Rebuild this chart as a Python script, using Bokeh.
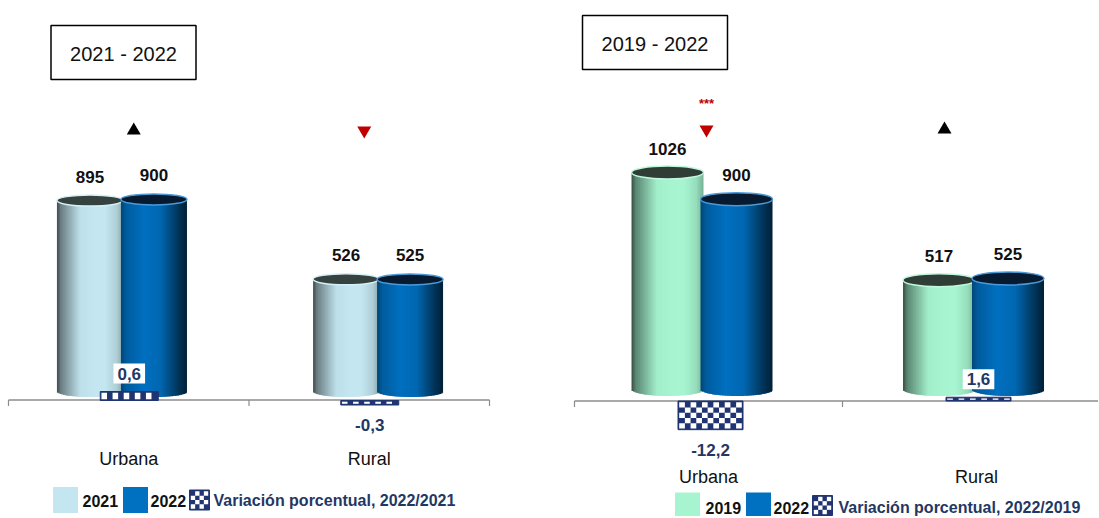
import numpy as np
from bokeh.plotting import figure
from bokeh.models import Range1d
from bokeh.layouts import row
from bokeh.embed import file_html
from bokeh.resources import INLINE
from bokeh.core.properties import value

# ---------------- data ----------------
categories = ["Urbana", "Rural"]

left_years = ["2021", "2022"]
left_first = [895, 526]      # 2021
left_second = [900, 525]     # 2022
left_var = [0.6, -0.3]       # variación porcentual 2022/2021
left_sig = ["", ""]
left_title = "2021 - 2022"
left_var_name = "Variación porcentual, 2022/2021"

right_years = ["2019", "2022"]
right_first = [1026, 517]    # 2019
right_second = [900, 525]    # 2022
right_var = [-12.2, 1.6]     # variación porcentual 2022/2019
right_sig = ["***", ""]
right_title = "2019 - 2022"
right_var_name = "Variación porcentual, 2022/2019"

# ---------------- styles ----------------
TOP = 0
H = 516
NAVY = "#1f3470"
LABEL_NAVY = "#1f3864"
RED = "#c00000"
NARROW = "'Liberation Sans Narrow', 'Arial Narrow', 'Liberation Sans', sans-serif"
SANS = "'Liberation Sans', Arial, sans-serif"

LIGHT_PROF = ([0, 0.06, 0.35, 0.7, 0.9, 1.0], [0.32, 0.55, 0.97, 1.02, 0.9, 0.72])
BLUE_PROF = ([0, 0.08, 0.35, 0.6, 0.85, 1.0], [0.62, 0.82, 1.0, 0.92, 0.5, 0.28])

STYLE_LIGHTBLUE = dict(base="#c3e6f0", prof=LIGHT_PROF, top="#36423f", rim="#d5f0f7")
STYLE_BLUE = dict(base="#0070c0", prof=BLUE_PROF, top="#071a30", rim="#4a9ad8")
STYLE_MINT = dict(base="#a6f5d0", prof=LIGHT_PROF, top="#2f3d36", rim="#c0f8de")

LEFT_CFG = dict(width=548, ox=0, ax0=8, upx=240.5, y0=391, scale=0.2134, eh=5.5,
                vbase=400, vscale=15, axis_py=399.5, cyl_w=66, overlap=2,
                persp=0.065, shift=1, bar_w=58, bar_dx=0.5, arrow_dx=[5, -5],
                arrow_py=130, cat_py=458, title_c=(123, 52),
                leg=dict(y=499.5, ty=500, sq=[65, 135], tx=[82, 150], icon=199, vx=213))
RIGHT_CFG = dict(width=550, ox=548, ax0=574, upx=268, y0=389, scale=0.2115, eh=6.5,
                 vbase=400.5, vscale=2.35, axis_py=400.5, cyl_w=72, overlap=3,
                 persp=0.013, shift=-4.75, bar_w=65, bar_dx=2, arrow_dx=[-2, -32],
                 arrow_py=129, cat_py=476, title_c=(654.5, 42),
                 leg=dict(y=505, ty=507, sq=[687, 758], tx=[705, 773], icon=822, vx=838))


def shade(hex_color, f):
    rgb = [int(hex_color[k:k + 2], 16) for k in (1, 3, 5)]
    if f <= 1:
        c = [ch * f for ch in rgb]
    else:
        c = [ch + (255 - ch) * (f - 1) for ch in rgb]
    c = [max(0, min(255, int(round(ch)))) for ch in c]
    return "#%02x%02x%02x" % tuple(c)


def cylinder(p, xc, w, v, eh, st):
    n = 44
    edges = np.linspace(xc - w / 2, xc + w / 2, n + 1)
    dw = edges[1] - edges[0]
    t = (np.arange(n) + 0.5) / n
    f = np.interp(t, st["prof"][0], st["prof"][1])
    cols = [shade(st["base"], fi) for fi in f]
    bottoms = -eh * np.sqrt(np.clip(1 - (2 * t - 1) ** 2, 0, 1))
    rights = edges[1:].copy()
    rights[:-1] += 0.7 * dw
    p.quad(left=edges[:-1], right=rights, bottom=bottoms, top=[v] * n,
           fill_color=cols, line_color=None)
    p.ellipse(x=[xc], y=[v], width=[w], height=[2 * eh], fill_color=st["top"],
              line_color=st["rim"], line_width=1.5)


def checker(p, xl, xr, yb, yt, xpx, ypx, cell=5.5, inset=1.2, yr="default"):
    lo, hi = min(yb, yt), max(yb, yt)
    p.quad(left=[xl], right=[xr], bottom=[lo], top=[hi], fill_color=NAVY,
           line_color=NAVY, line_width=1, y_range_name=yr)
    ix, iy = inset / xpx, inset / ypx
    il, ir, ib, it = xl + ix, xr - ix, lo + iy, hi - iy
    if it <= ib:
        ib, it = lo + (hi - lo) * 0.3, hi - (hi - lo) * 0.3
    inner_w = (ir - il) * xpx
    inner_h = (it - ib) * ypx
    nc = max(1, int(round(inner_w / cell)))
    nr = max(1, int(round(inner_h / cell)))
    cw, chh = (ir - il) / nc, (it - ib) / nr
    L, R, B, T = [], [], [], []
    for i in range(nc):
        for j in range(nr):
            if (i + j) % 2 == 0:
                L.append(il + i * cw); R.append(il + (i + 1) * cw)
                B.append(ib + j * chh); T.append(ib + (j + 1) * chh)
    p.quad(left=L, right=R, bottom=B, top=T, fill_color="white", line_color=None,
           y_range_name=yr)


def build(cfg, first, second, var, sig, years, styles, title, var_name):
    W, ox, ax0, upx = cfg["width"], cfg["ox"], cfg["ax0"], cfg["upx"]
    y0, sc, vb, vsc = cfg["y0"], cfg["scale"], cfg["vbase"], cfg["vscale"]
    X = lambda px: (px - ax0) / upx
    Y = lambda py: (y0 - py) / sc
    V = lambda py: (vb - py) / vsc

    p = figure(width=W, height=H, x_range=Range1d(X(ox), X(ox + W)),
               y_range=Range1d(Y(TOP + H), Y(TOP)), output_backend="svg",
               toolbar_location=None, min_border=0,
               x_axis_location=None, y_axis_location=None)
    p.extra_y_ranges = {"var": Range1d(V(TOP + H), V(TOP))}
    p.grid.visible = False
    p.outline_line_color = None
    p.background_fill_color = "white"
    p.border_fill_color = "white"

    ncat = len(categories)
    # category axis
    ay = Y(cfg["axis_py"])
    p.segment(x0=[0], y0=[ay], x1=[ncat], y1=[ay], line_color="#8c8c8c", line_width=1.5)
    ticks = list(range(ncat + 1))
    p.segment(x0=ticks, y0=[ay] * len(ticks), x1=ticks,
              y1=[Y(cfg["axis_py"] + 6)] * len(ticks), line_color="#8c8c8c", line_width=1.2)
    p.text(x=[i + 0.5 for i in range(ncat)], y=[Y(cfg["cat_py"])] * ncat, text=categories,
           text_font=value(SANS), text_font_size="18px", text_color="#111111",
           text_align="center", text_baseline="middle")

    # cylinders
    eh = cfg["eh"] / sc
    mid = ax0 + upx * ncat / 2
    half = (cfg["cyl_w"] - cfg["overlap"]) / 2
    wdat = cfg["cyl_w"] / upx
    lab_x, lab_y, lab_t = [], [], []
    for i in range(ncat):
        cc = ax0 + (i + 0.5) * upx
        shift = cfg["persp"] * (cc - mid) + cfg["shift"]
        for s, vals in enumerate([first, second]):
            xc = X(cc + shift + (half if s else -half))
            cylinder(p, xc, wdat, vals[i], eh, styles[s])
            lab_x.append(xc)
            lab_y.append(vals[i] + 24 / sc)
            lab_t.append(str(vals[i]))
    p.text(x=lab_x, y=lab_y, text=lab_t, text_font=value(NARROW), text_font_size="17px",
           text_font_style="bold", text_color="#111111", text_align="center",
           text_baseline="middle")

    # variation bars (checkered)
    for i in range(ncat):
        cc = ax0 + (i + 0.5) * upx
        bc = cc + cfg["bar_dx"]
        xl, xr = X(bc - cfg["bar_w"] / 2), X(bc + cfg["bar_w"] / 2)
        checker(p, xl, xr, 0, var[i], upx, vsc, yr="var")
        lbl = ("%.1f" % var[i]).replace(".", ",")
        if var[i] >= 0:
            p.text(x=[X(bc)], y=[var[i] + 18 / vsc], text=[lbl], y_range_name="var",
                   text_font=value(NARROW), text_font_size="17px", text_font_style="bold",
                   text_color=LABEL_NAVY, text_align="center", text_baseline="middle",
                   background_fill_color="white", padding=4)
        else:
            p.text(x=[X(bc)], y=[var[i] - 20 / vsc], text=[lbl], y_range_name="var",
                   text_font=value(NARROW), text_font_size="17px", text_font_style="bold",
                   text_color=LABEL_NAVY, text_align="center", text_baseline="middle")

    # direction arrows and significance
    for i in range(ncat):
        cc = ax0 + (i + 0.5) * upx
        ax_ = X(cc + cfg["arrow_dx"][i])
        up = var[i] >= 0
        p.scatter(x=[ax_], y=[Y(cfg["arrow_py"])], marker="triangle" if up else "inverted_triangle",
                  size=14, fill_color="black" if up else RED, line_color=None)
        if sig[i]:
            p.text(x=[ax_], y=[Y(cfg["arrow_py"] - 26)], text=[sig[i]], text_font=value(SANS),
                   text_font_size="13px", text_font_style="bold", text_color=RED,
                   text_align="center", text_baseline="middle")

    # title box
    tx, ty = cfg["title_c"]
    p.rect(x=[X(tx)], y=[Y(ty)], width=145, height=54, width_units="screen",
           height_units="screen", fill_color="white", line_color="black", line_width=1.5)
    p.text(x=[X(tx)], y=[Y(ty + 1)], text=[title], text_font=value(SANS),
           text_font_size="20px", text_color="#111111", text_align="center",
           text_baseline="middle")

    # legend
    lg = cfg["leg"]
    for s in range(2):
        p.rect(x=[X(lg["sq"][s])], y=[Y(lg["y"])], width=25, height=26, width_units="screen",
               height_units="screen", fill_color=styles[s]["base"], line_color=None)
        p.text(x=[X(lg["tx"][s])], y=[Y(lg["ty"])], text=[years[s]], text_font=value(SANS),
               text_font_size="16px", text_font_style="bold", text_color="#111111",
               text_align="left", text_baseline="middle")
    ic = lg["icon"]
    checker(p, X(ic - 10), X(ic + 10), Y(lg["y"] + 10), Y(lg["y"] - 10), upx, sc, cell=4.5,
            inset=1.3)
    p.text(x=[X(lg["vx"])], y=[Y(lg["ty"])], text=[var_name], text_font=value(SANS),
           text_font_size="16px", text_font_style="bold", text_color=LABEL_NAVY,
           text_align="left", text_baseline="middle")
    return p


left = build(LEFT_CFG, left_first, left_second, left_var, left_sig, left_years,
             [STYLE_LIGHTBLUE, STYLE_BLUE], left_title, left_var_name)
right = build(RIGHT_CFG, right_first, right_second, right_var, right_sig, right_years,
              [STYLE_MINT, STYLE_BLUE], right_title, right_var_name)

layout = row(left, right, spacing=0)
open("out.html", "w", encoding="utf-8").write(file_html(layout, INLINE))
